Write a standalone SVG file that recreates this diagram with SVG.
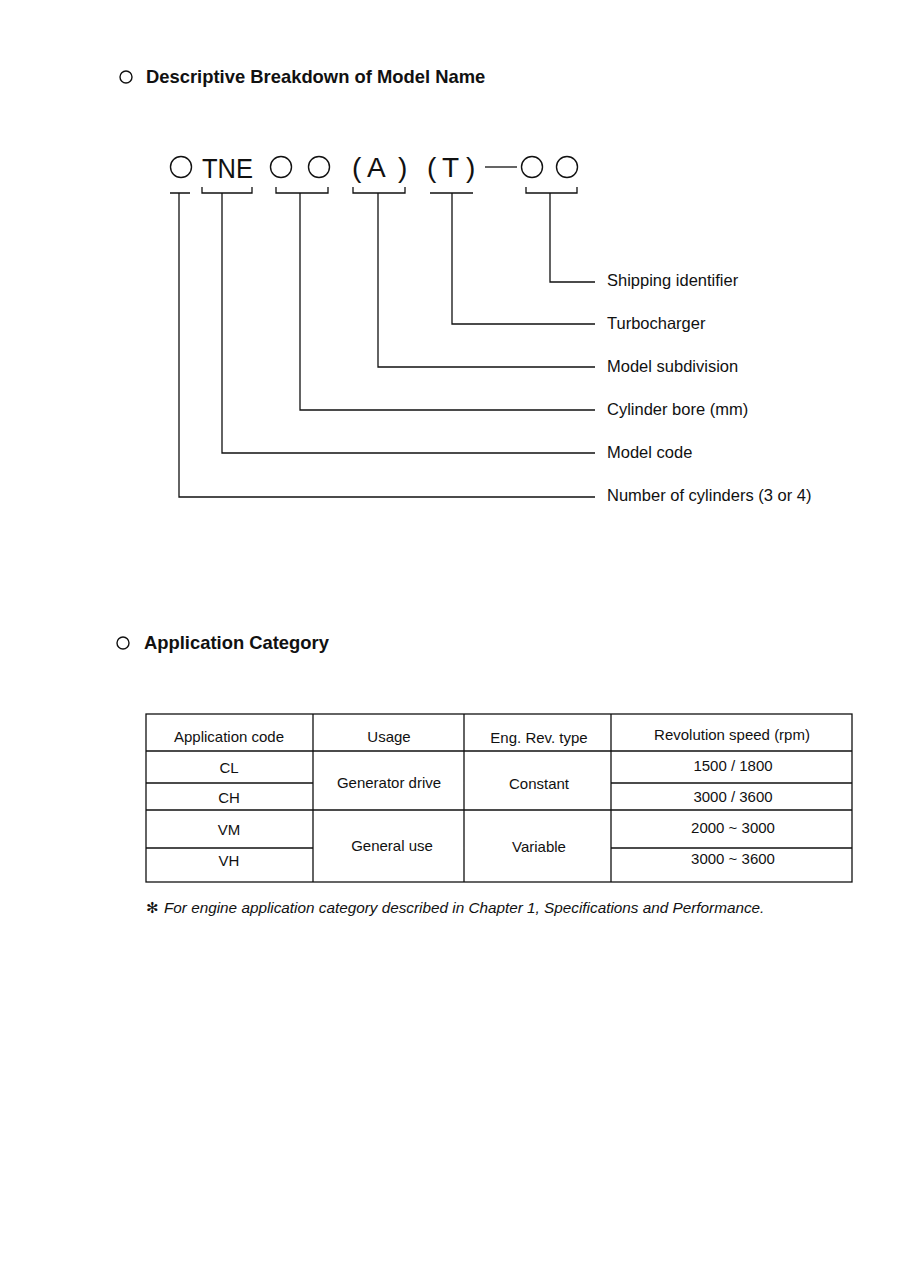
<svg xmlns="http://www.w3.org/2000/svg" width="901" height="1280" viewBox="0 0 901 1280">
<style>
.h{font-family:"Liberation Sans",Arial,sans-serif;font-weight:bold;font-size:18.4px;fill:#111}
.lbl{font-family:"Liberation Sans",Arial,sans-serif;font-size:16.5px;fill:#111}
.big{font-family:"Liberation Sans",Arial,sans-serif;font-size:28px;fill:#111}
.t{font-family:"Liberation Sans",Arial,sans-serif;font-size:15px;fill:#111;text-anchor:middle}
.fn{font-family:"Liberation Sans",Arial,sans-serif;font-size:15.3px;font-style:italic;fill:#111}
.ln{stroke:#111;stroke-width:1.3;fill:none}
.circ{stroke:#111;stroke-width:1.4;fill:none}
.tb{stroke:#111;stroke-width:1.3;fill:none}
</style>
<rect width="901" height="1280" fill="#fff"/>
<g id="title1">
<circle class="circ" cx="126" cy="77" r="6"/>
<text class="h" x="146" y="83">Descriptive Breakdown of Model Name</text>
</g>
<g id="model-string">
<circle class="circ" cx="181" cy="167" r="10.5"/>
<text class="big" x="202" y="178" textLength="51" lengthAdjust="spacingAndGlyphs">TNE</text>
<circle class="circ" cx="281" cy="167" r="10.5"/>
<circle class="circ" cx="319" cy="167" r="10.5"/>
<text class="big" x="352" y="177">(</text>
<text class="big" x="367" y="177">A</text>
<text class="big" x="398" y="177">)</text>
<text class="big" x="427" y="177">(</text>
<text class="big" x="442" y="177">T</text>
<text class="big" x="466" y="177">)</text>
<line class="ln" x1="485" y1="167" x2="517" y2="167" stroke-width="1.6"/>
<circle class="circ" cx="532" cy="167" r="10.5"/>
<circle class="circ" cx="567" cy="167" r="10.5"/>
</g>
<g id="connectors">
<path class="ln" d="M170 193H190M179 193V497H595"/>
<path class="ln" d="M202 187V193H252V187M222 193V453H595"/>
<path class="ln" d="M276 187V193H328V187M300 193V410H595"/>
<path class="ln" d="M353 187V193H405V187M378 193V367H595"/>
<path class="ln" d="M430 193H473M452 193V324H595"/>
<path class="ln" d="M526 187V193H577V187M550 193V282H595"/>
</g>
<g id="label-shipping"><text class="lbl" x="607" y="286">Shipping identifier</text></g>
<g id="label-turbo"><text class="lbl" x="607" y="329">Turbocharger</text></g>
<g id="label-subdivision"><text class="lbl" x="607" y="372">Model subdivision</text></g>
<g id="label-bore"><text class="lbl" x="607" y="415">Cylinder bore (mm)</text></g>
<g id="label-code"><text class="lbl" x="607" y="458">Model code</text></g>
<g id="label-cylinders"><text class="lbl" x="607" y="501">Number of cylinders (3 or 4)</text></g>
<g id="title2">
<circle class="circ" cx="123" cy="643" r="6"/>
<text class="h" x="144" y="649">Application Category</text>
</g>
<g id="table">
<rect class="tb" x="146" y="714" width="706" height="168" stroke-width="1.6"/>
<path class="tb" d="M146 751H852M313 714V882M464 714V882M611 714V882M146 783H313M611 783H852M146 810H852M146 848H313M611 848H852"/>
<text class="t" x="229" y="742">Application code</text>
<text class="t" x="389" y="742">Usage</text>
<text class="t" x="539" y="743">Eng. Rev. type</text>
<text class="t" x="732" y="740">Revolution speed (rpm)</text>
<text class="t" x="229" y="773">CL</text>
<text class="t" x="229" y="803">CH</text>
<text class="t" x="229" y="835">VM</text>
<text class="t" x="229" y="866">VH</text>
<text class="t" x="389" y="788">Generator drive</text>
<text class="t" x="539" y="789">Constant</text>
<text class="t" x="392" y="851">General use</text>
<text class="t" x="539" y="852">Variable</text>
<text class="t" x="733" y="771">1500 / 1800</text>
<text class="t" x="733" y="802">3000 / 3600</text>
<text class="t" x="733" y="833">2000 ~ 3000</text>
<text class="t" x="733" y="864">3000 ~ 3600</text>
</g>
<g id="footnote">
<text x="146" y="913" style="font-family:'DejaVu Sans',sans-serif;font-size:15px;fill:#111">✻</text>
<text class="fn" x="164" y="913">For engine application category described in Chapter 1, Specifications and Performance.</text>
</g>
</svg>
